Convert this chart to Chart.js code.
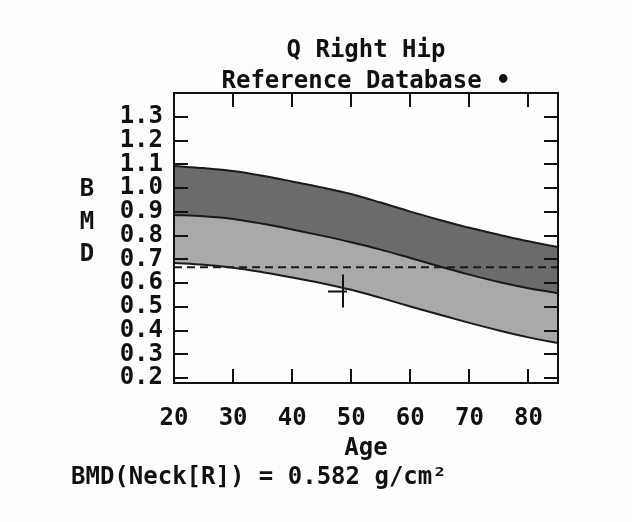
<!DOCTYPE html>
<html>
<head>
<meta charset="utf-8">
<script src="https://cdn.jsdelivr.net/npm/chart.js@4.4.1/dist/chart.umd.min.js"></script>
<style>
  html, body { margin: 0; padding: 0; background: #fefdfb; }
  canvas { display: block; }
</style>
</head>
<body>
<canvas id="c" width="632" height="522"></canvas>
<script>
// ---- data ----
const ages      = [20, 25, 30, 35, 40, 45, 50, 55, 60, 65, 70, 75, 80, 85];
const bandTop   = [1.093, 1.084, 1.072, 1.052, 1.028, 1.003, 0.975, 0.939, 0.901, 0.866, 0.833, 0.804, 0.776, 0.752];
const bandMid   = [0.887, 0.881, 0.870, 0.850, 0.826, 0.800, 0.772, 0.741, 0.706, 0.670, 0.636, 0.605, 0.579, 0.558];
const bandLow   = [0.685, 0.677, 0.665, 0.646, 0.624, 0.600, 0.572, 0.538, 0.502, 0.467, 0.433, 0.401, 0.372, 0.348];
const refAges   = [20, 85];
const refValues = [0.667, 0.667];
const patientAges = [48.6];
const patientBMD  = [0.565];
const xTicks = [20, 30, 40, 50, 60, 70, 80];
const yTicks = [0.2, 0.3, 0.4, 0.5, 0.6, 0.7, 0.8, 0.9, 1.0, 1.1, 1.2, 1.3];
const titleLines = ['Q Right Hip', 'Reference Database \u2022'];
const yAxisLetters = ['B', 'M', 'D'];
const xAxisTitle = 'Age';
const resultText = 'BMD(Neck[R]) = 0.582 g/cm\u00B2';

const FONT = '"DejaVu Sans Mono", "Liberation Mono", monospace';
const INK = '#111111';

const toXY = (xs, ys) => xs.map((x, i) => ({ x: x, y: ys[i] }));

// crosshair marker for the patient point
const cross = document.createElement('canvas');
cross.width = 40; cross.height = 40;
(function () {
  const g = cross.getContext('2d');
  g.strokeStyle = INK; g.lineWidth = 2;
  g.beginPath();
  g.moveTo(20, 3); g.lineTo(20, 36);
  g.moveTo(5, 20); g.lineTo(24, 20);
  g.stroke();
})();

const framePlugin = {
  id: 'frame',
  afterDraw(chart) {
    const { ctx, chartArea: a, scales: { x, y } } = chart;
    const L = 14;
    ctx.save();
    ctx.strokeStyle = INK;
    ctx.lineWidth = 2;
    ctx.strokeRect(a.left, a.top, a.right - a.left, a.bottom - a.top);
    ctx.beginPath();
    yTicks.forEach(v => {
      const p = Math.round(y.getPixelForValue(v));
      ctx.moveTo(a.left, p); ctx.lineTo(a.left + L, p);
      ctx.moveTo(a.right, p); ctx.lineTo(a.right - L, p);
    });
    xTicks.forEach(v => {
      const p = Math.round(x.getPixelForValue(v));
      ctx.moveTo(p, a.bottom); ctx.lineTo(p, a.bottom - L);
      ctx.moveTo(p, a.top); ctx.lineTo(p, a.top + L);
    });
    ctx.stroke();
    // vertical stacked Y-axis title
    ctx.fillStyle = INK;
    ctx.font = 'bold 24px ' + FONT;
    ctx.textAlign = 'center';
    ctx.textBaseline = 'middle';
    const ys = [190, 222.5, 255];
    yAxisLetters.forEach((t, i) => ctx.fillText(t, 87, ys[i]));
    ctx.restore();
  }
};

new Chart(document.getElementById('c'), {
  type: 'line',
  data: {
    datasets: [
      {
        data: toXY(ages, bandTop),
        borderColor: '#1a1a1a', borderWidth: 2,
        backgroundColor: '#6b6b6b',
        fill: '+1', pointRadius: 0, cubicInterpolationMode: 'monotone'
      },
      {
        data: toXY(ages, bandMid),
        borderColor: '#1a1a1a', borderWidth: 2,
        backgroundColor: '#a9a9a9',
        fill: '+1', pointRadius: 0, cubicInterpolationMode: 'monotone'
      },
      {
        data: toXY(ages, bandLow),
        borderColor: '#1a1a1a', borderWidth: 2,
        fill: false, pointRadius: 0, cubicInterpolationMode: 'monotone'
      },
      {
        data: toXY(refAges, refValues),
        borderColor: '#1a1a1a', borderWidth: 2, borderDash: [8, 5],
        fill: false, pointRadius: 0
      },
      {
        type: 'scatter',
        data: toXY(patientAges, patientBMD),
        pointStyle: cross, pointRadius: 20,
        showLine: false
      }
    ]
  },
  options: {
    responsive: false,
    animation: false,
    devicePixelRatio: 1,
    layout: { padding: { left: 71, right: 74, top: 0, bottom: 30.2 } },
    plugins: {
      legend: { display: false },
      tooltip: { enabled: false },
      filler: { drawTime: 'beforeDatasetsDraw' },
      title: {
        display: true,
        text: titleLines,
        fullSize: false,
        color: INK,
        font: { family: FONT, size: 24, weight: 'bold', lineHeight: 1.3 },
        padding: { top: 35.4, bottom: -4.8 }
      },
      subtitle: {
        display: true,
        text: resultText,
        position: 'bottom',
        align: 'start',
        color: INK,
        font: { family: FONT, size: 24, weight: 'bold', lineHeight: 1.2 },
        padding: { top: 0, bottom: 0 }
      }
    },
    scales: {
      x: {
        type: 'linear',
        min: 20, max: 85,
        grid: { display: false },
        border: { display: false },
        afterBuildTicks: s => { s.ticks = xTicks.map(v => ({ value: v })); },
        afterFit: s => { s.height = 80; },
        ticks: {
          color: INK, padding: 13.6, autoSkip: false, maxRotation: 0,
          font: { family: FONT, size: 24, weight: 'bold', lineHeight: 1.2 },
          callback: v => String(v)
        },
        title: {
          display: true, text: xAxisTitle, color: INK,
          font: { family: FONT, size: 24, weight: 'bold', lineHeight: 1.2 },
          padding: { top: 0, bottom: 0 }
        }
      },
      y: {
        type: 'linear',
        min: 0.18, max: 1.4,
        grid: { display: false },
        border: { display: false },
        afterBuildTicks: s => { s.ticks = yTicks.map(v => ({ value: v })); },
        afterFit: s => { s.width = 103; },
        ticks: {
          color: INK, padding: 3, autoSkip: false,
          font: { family: FONT, size: 24, weight: 'bold', lineHeight: 1.0 },
          callback: v => Number(v).toFixed(1)
        }
      }
    }
  },
  plugins: [framePlugin]
});
</script>
</body>
</html>
